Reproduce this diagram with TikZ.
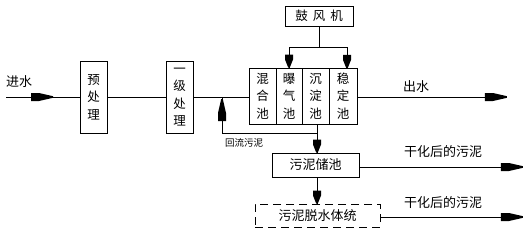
\documentclass[tikz,border=0pt]{standalone}
\usepackage{fontspec}
\newfontfamily\cjk{Noto Sans CJK SC}
\usetikzlibrary{decorations.markings}
\tikzset{
  fatL/.style={postaction={decorate},decoration={markings,mark=at position #1 with {\fill (-22pt,-4pt) -- (-14pt,-4pt) -- (0pt,-0.8pt) -- (0pt,0.8pt) -- (-14pt,4pt) -- (-22pt,4pt) -- cycle;}}},
  fatS/.style={postaction={decorate},decoration={markings,mark=at position #1 with {\fill (-13pt,-4pt) -- (-8pt,-4pt) -- (0pt,-0.8pt) -- (0pt,0.8pt) -- (-8pt,4pt) -- (-13pt,4pt) -- cycle;}}},
  box/.style={draw,line width=0.8pt,inner sep=0pt,align=center,font=\cjk\fontsize{12.5}{17.5}\selectfont},
  lbl/.style={font=\cjk\fontsize{13}{14}\selectfont,inner sep=0pt},
  ln/.style={line width=0.8pt},
}
\begin{document}
\begin{tikzpicture}[x=1pt,y=-1pt]
\useasboundingbox (0,0) rectangle (528,233);
% main boxes
\node[box,minimum width=27pt,minimum height=72pt] (pre) at (93.5,97) {预\\处\\理};
\node[box,minimum width=27pt,minimum height=72pt] (prim) at (179.5,97) {一\\级\\处\\理};
\node[box,minimum width=27pt,minimum height=56pt] (t1) at (262.5,96) {混\\合\\池};
\node[box,minimum width=26pt,minimum height=56pt] (t2) at (289,96) {曝\\气\\池};
\node[box,minimum width=27pt,minimum height=56pt] (t3) at (315.5,96) {沉\\淀\\池};
\node[box,minimum width=28pt,minimum height=56pt] (t4) at (343,96) {稳\\定\\池};
\node[box,minimum width=68pt,minimum height=20pt] (blow) at (319,16) {鼓\hspace{5pt}风\hspace{5pt}机};
\node[box,font=\cjk\fontsize{13}{15}\selectfont,minimum width=87pt,minimum height=24pt] (store) at (315.5,165) {污泥储池};
\node[box,font=\cjk\fontsize{13}{15}\selectfont,dashed,dash pattern=on 8pt off 5pt,minimum width=125pt,minimum height=23pt] (dew) at (317.5,215.5) {污泥脱水体统};
% coordinates
\coordinate (in) at (6,97);
\coordinate (out) at (507,97);
\coordinate (jr) at (317,133);
\coordinate (rb) at (222,133);
\coordinate (o2) at (523,167);
\coordinate (o3) at (523,217);
\coordinate (bj) at (319,47);
% labels
\node[lbl] at (19,82) {进水};
\node[lbl] at (416,87) {出水};
\node[lbl] at (443,152) {干化后的污泥};
\node[lbl] at (443,203) {干化后的污泥};
\node[font=\cjk\fontsize{9.5}{10}\selectfont,inner sep=0pt] at (244,143) {回流污泥};
% main line
\draw[ln,fatL=47pt] (in) -- (pre.west |- in);
\draw[ln] (pre.east |- in) -- (prim.west |- in);
\draw[ln] (prim.east |- in) -- (t1.west |- in);
\draw[ln,fatL=-0.01pt] (t4.east |- in) -- (out);
% return sludge
\draw[ln,fatL=-2pt] (jr) -- (rb) -- (rb |- in);
% sludge down
\draw[ln,fatS=-0.01pt] (t3.south -| jr) -- (store.north -| jr);
\draw[ln,fatS=-0.01pt] (store.south -| jr) -- (dew.north -| jr);
% sludge outputs
\draw[ln,fatL=-0.01pt] (store.east |- o2) -- (o2);
\draw[ln,fatL=-0.01pt] (dew.east |- o3) -- (o3);
% blower
\draw[ln] (blow.south) -- (bj);
\draw[ln] (t2.north |- bj) -- (347,47);
\draw[ln,fatS=-0.01pt] (t2.north |- bj) -- (t2.north);
\draw[ln,fatS=-0.01pt] (347,47) -- (347,68);
\end{tikzpicture}
\end{document}
